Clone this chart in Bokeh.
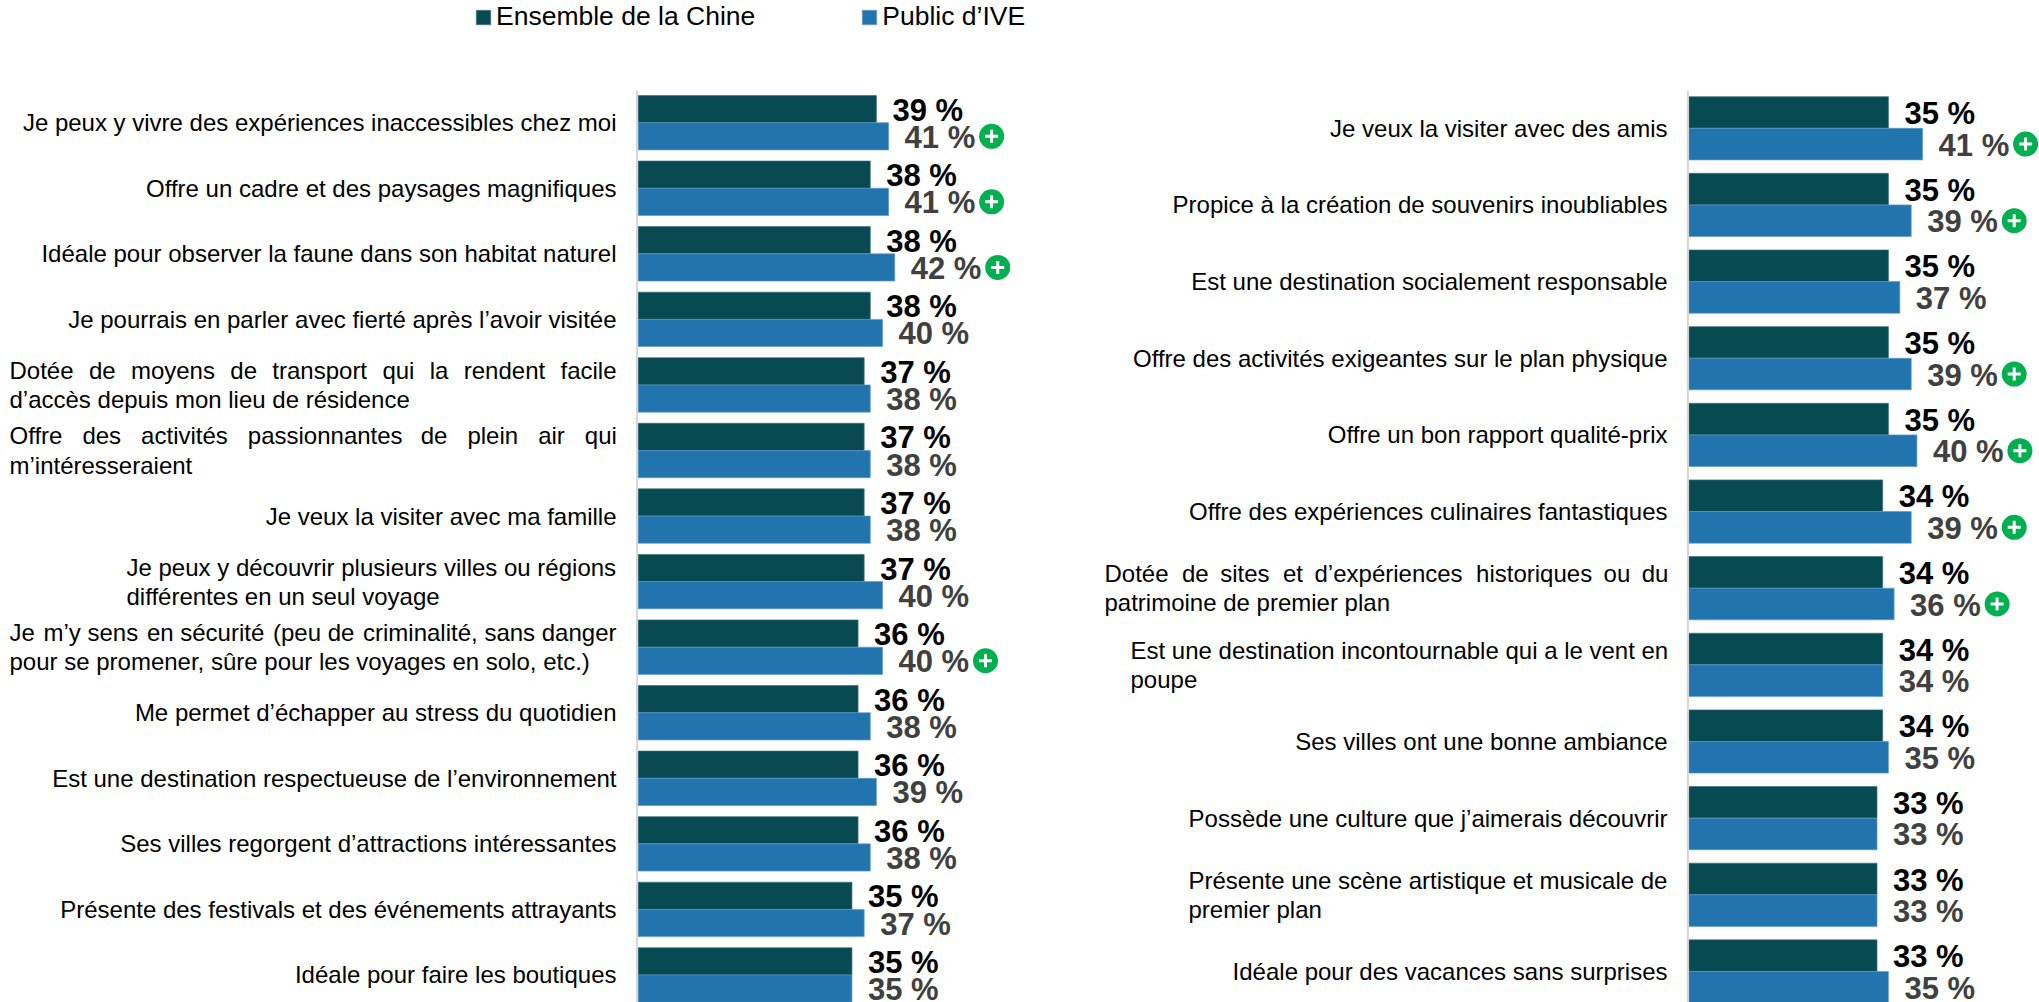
from bokeh.embed import file_html
from bokeh.resources import INLINE
from bokeh.plotting import figure
from bokeh.models import Range1d, ColumnDataSource, Legend, LegendItem
from bokeh.core.properties import value

series_names = ["Ensemble de la Chine", "Public d’IVE"]

NB, TH, HR = "\u00a0", "\u2009", "\u200a"

left_labels = [
    "Je peux y vivre des expériences inaccessibles chez moi",
    "Offre un cadre et des paysages magnifiques",
    "Idéale pour observer la faune dans son habitat naturel",
    "Je pourrais en parler avec fierté après l’avoir visitée",
    "Dotée de moyens de transport qui la rendent facile\nd’accès depuis mon lieu de résidence",
    "Offre des activités passionnantes de plein air qui\nm’intéresseraient",
    "Je veux la visiter avec ma famille",
    "Je peux y découvrir plusieurs villes ou régions\ndifférentes en un seul voyage",
    "Je m’y sens en sécurité (peu de criminalité, sans danger\npour se promener, sûre pour les voyages en solo, etc.)",
    "Me permet d’échapper au stress du quotidien",
    "Est une destination respectueuse de l’environnement",
    "Ses villes regorgent d’attractions intéressantes",
    "Présente des festivals et des événements attrayants",
    "Idéale pour faire les boutiques",
]
left_china = [39, 38, 38, 38, 37, 37, 37, 37, 36, 36, 36, 36, 35, 35]
left_ive = [41, 41, 42, 40, 38, 38, 38, 40, 40, 38, 39, 38, 37, 35]
left_plus = [1, 1, 1, 0, 0, 0, 0, 0, 1, 0, 0, 0, 0, 0]

right_labels = [
    "Je veux la visiter avec des amis",
    "Propice à la création de souvenirs inoubliables",
    "Est une destination socialement responsable",
    "Offre des activités exigeantes sur le plan physique",
    "Offre un bon rapport qualité-prix",
    "Offre des expériences culinaires fantastiques",
    "Dotée de sites et d’expériences historiques ou du\npatrimoine de premier plan",
    "Est une destination incontournable qui a le vent en\npoupe",
    "Ses villes ont une bonne ambiance",
    "Possède une culture que j’aimerais découvrir",
    "Présente une scène artistique et musicale de\npremier plan",
    "Idéale pour des vacances sans surprises",
]
right_china = [35, 35, 35, 35, 35, 34, 34, 34, 34, 33, 33, 33]
right_ive = [41, 39, 37, 39, 40, 39, 36, 34, 35, 33, 33, 35]
right_plus = [1, 1, 0, 1, 1, 1, 1, 0, 0, 0, 0, 0]

W, H = 2039, 1002
FONT = "Liberation Sans"
DARK, BLUE = "#074A52", "#2174AD"

p = figure(width=W, height=H, output_backend="svg", toolbar_location=None,
           x_axis_type=None, y_axis_type=None, min_border=0,
           x_range=Range1d(0, W), y_range=Range1d(H, 0), outline_line_color=None)
p.grid.visible = False


def justify(label, fillers):
    first, _, rest = label.partition("\n")
    words = first.split(" ")
    out = words[0]
    for k, w in enumerate(words[1:]):
        out += " " + fillers[k % len(fillers)] + w
    return out + "\n" + rest


def panel(name, labels, china, ive, plus, zero_px, px_per, c0, pitch, bar_h, label_right, multiline_left, fillers, top_axis):
    xn, yn = name + "x", name + "y"
    p.extra_x_ranges[xn] = Range1d((0 - zero_px) / px_per, (W - zero_px) / px_per)
    p.extra_y_ranges[yn] = Range1d((H - c0) / pitch, (0 - c0) / pitch)
    kw = dict(x_range_name=xn, y_range_name=yn)
    n = len(labels)
    rows = list(range(n))
    h = bar_h / pitch
    r1 = p.hbar(y=[i - h / 2 for i in rows], left=0, right=china, height=h, fill_color=DARK,
                line_color="#3E7178", line_width=0.7, **kw)
    r2 = p.hbar(y=[i + h / 2 for i in rows], left=0, right=ive, height=h, fill_color=BLUE,
                line_color="#5C9BC6", line_width=0.7, **kw)
    off = -1.0 / px_per
    p.segment(x0=[off], x1=[off], y0=[(top_axis - c0) / pitch], y1=[(H - c0) / pitch],
              line_color="#D4D4D4", line_width=2, **kw)
    p.text(x=china, y=[i - h / 2 for i in rows], text=[f"{v} %" for v in china], x_offset=16, y_offset=1,
           text_font=value(FONT), text_font_size="31px", text_font_style="bold", text_color="#000000",
           text_baseline="middle", text_align="left", **kw)
    p.text(x=ive, y=[i + h / 2 for i in rows], text=[f"{v} %" for v in ive], x_offset=16, y_offset=1,
           text_font=value(FONT), text_font_size="31px", text_font_style="bold", text_color="#404040",
           text_baseline="middle", text_align="left", **kw)
    sx = [v + (17 + 72 + 14) / px_per for v, f in zip(ive, plus) if f]
    sy = [i + h / 2 for i, f in zip(rows, plus) if f]
    p.scatter(x=sx, y=sy, marker="circle", size=25, fill_color="#00B050", line_color=None, **kw)
    p.scatter(x=sx, y=sy, marker="cross", size=13, fill_color=None, line_color="#FFFFFF", line_width=3, **kw)
    aligns = ["left" if i in multiline_left else "right" for i in rows]
    offs = [multiline_left[i] - zero_px if i in multiline_left else label_right - zero_px for i in rows]
    texts = [justify(t, fillers[i]) if i in fillers else t for i, t in enumerate(labels)]
    src = ColumnDataSource(dict(x=[0] * n, y=rows, t=texts, a=aligns, o=offs))
    p.text(x="x", y="y", text="t", text_align="a", x_offset="o", source=src, text_font=value(FONT),
           text_font_size="24px", text_color="#000000", text_baseline="middle", text_line_height=1.08, **kw)
    return r1, r2


r1, r2 = panel("L", left_labels, left_china, left_ive, left_plus, 637.6, 6.11, 122.2, 65.56, 27.2, 616,
               {4: 9, 5: 9, 7: 126, 8: 9},
               {4: [NB + HR], 5: [NB + NB, NB + NB, NB + NB, NB + TH, NB + NB, NB + NB, NB + NB],
                8: [HR, "", HR, "", HR, "", HR, "", ""]}, 90)
panel("R", right_labels, right_china, right_ive, right_plus, 1688.4, 5.7, 127.8, 76.65, 31.6, 1667,
      {6: 1104, 7: 1130, 10: 1188}, {6: [TH + HR, TH, TH + HR, TH, TH + HR, TH, TH]}, 90)

legend = Legend(items=[LegendItem(label=value(series_names[0]), renderers=[r1]),
                       LegendItem(label=value(series_names[1]), renderers=[r2])],
                orientation="horizontal", location=(474, H - 32), padding=0, margin=0, spacing=105,
                glyph_width=18, glyph_height=18, label_standoff=4, border_line_color=None,
                background_fill_color=None, label_text_font=FONT, label_text_font_size="26.5px",
                label_text_color="#000000")
p.add_layout(legend, "center")

open("out.html", "w").write(file_html(p, INLINE))
